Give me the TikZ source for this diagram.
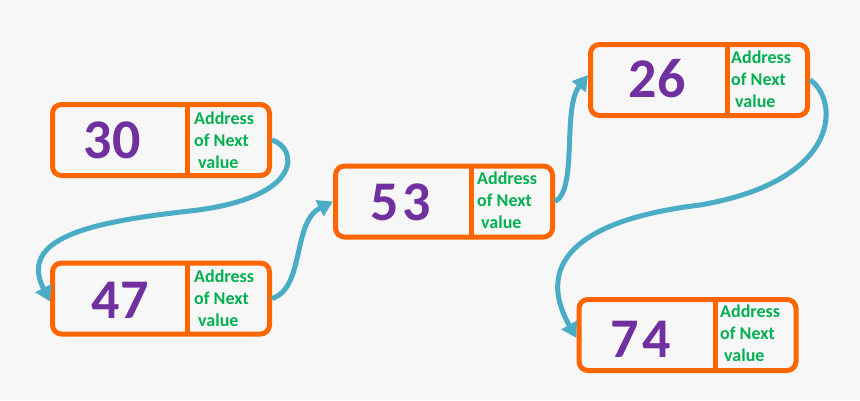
\documentclass[tikz,border=0pt]{standalone}
\usepackage{fontspec}
\setmainfont{Carlito}
\usetikzlibrary{arrows.meta}
\definecolor{bg}{HTML}{F7F7F7}
\definecolor{llorange}{HTML}{FF6600}
\definecolor{llpurple}{HTML}{7030A0}
\definecolor{llgreen}{HTML}{00B050}
\definecolor{llteal}{HTML}{4BACC6}
\tikzset{
  cell/.style={draw=llorange, line width=5pt, rounded corners=9pt, minimum width=217pt, minimum height=71pt, inner sep=0pt},
  divider/.style={draw=llorange, line width=5pt},
  num/.style={text=llpurple, font=\fontsize{56}{60}\selectfont\bfseries, inner sep=0pt},
  addr/.style={text=llgreen, font=\fontsize{18}{22}\selectfont\bfseries, align=left, anchor=west, inner sep=0pt},
  link/.style={draw=llteal, line width=5pt, -{Triangle[length=15pt,width=17pt]}}
}
\begin{document}
\begin{tikzpicture}[x=1pt,y=-1pt]
\fill[bg] (0,0) rectangle (860,400);
\useasboundingbox (0,0) rectangle (860,400);
% boxes
\node[cell] (b30) at (161,140) {};
\node[cell] (b47) at (161,298.5) {};
\node[cell] (b53) at (444,201.5) {};
\node[cell] (b26) at (699,80) {};
\node[cell] (b74) at (687.5,335) {};
% dividers
\coordinate (d30t) at (187,104.5); \coordinate (d30b) at (187,175.5);
\coordinate (d47t) at (187,262.5); \coordinate (d47b) at (187,334.5);
\coordinate (d53t) at (471,165.5); \coordinate (d53b) at (471,237.5);
\coordinate (d26t) at (727,44.5);  \coordinate (d26b) at (727,115.5);
\coordinate (d74t) at (715,299.5); \coordinate (d74b) at (715,370.5);
\draw[divider] (d30t) -- (d30b);
\draw[divider] (d47t) -- (d47b);
\draw[divider] (d53t) -- (d53b);
\draw[divider] (d26t) -- (d26b);
\draw[divider] (d74t) -- (d74b);
% numbers
\node[num] (n30) at (112,140) {30};
\node[num] (n47) at (120,300) {47};
\node[num] (n53) at (401,202) {5\kern4pt3};
\node[num] (n26) at (657,79) {26};
\node[num] (n74) at (641,339) {7\kern4pt4};
% address texts
\node[addr] (a30) at (194,140) {Address\\of Next\\\hspace{4pt}value};
\node[addr] (a47) at (194,298) {Address\\of Next\\\hspace{4pt}value};
\node[addr] (a53) at (477,200) {Address\\of Next\\\hspace{4pt}value};
\node[addr] (a26) at (731,79) {Address\\of Next\\\hspace{4pt}value};
\node[addr] (a74) at (720,333) {Address\\of Next\\\hspace{4pt}value};
% links
\draw[link] (b30.east) .. controls (298,148) and (305,198) .. (190,211)
            .. controls (90,222) and (18,238) .. ([yshift=-3pt]b47.west);
\draw[link] (b47.east) .. controls (305,288) and (292,222) .. (b53.west);
\draw[link] (b53.east) .. controls (578,190) and (562,108) .. ([yshift=5pt]b26.west);
\draw[link] (b26.east) .. controls (838,98) and (845,180) .. (700,205)
            .. controls (575,220) and (535,265) .. ([yshift=-3pt]b74.west);
\end{tikzpicture}
\end{document}
